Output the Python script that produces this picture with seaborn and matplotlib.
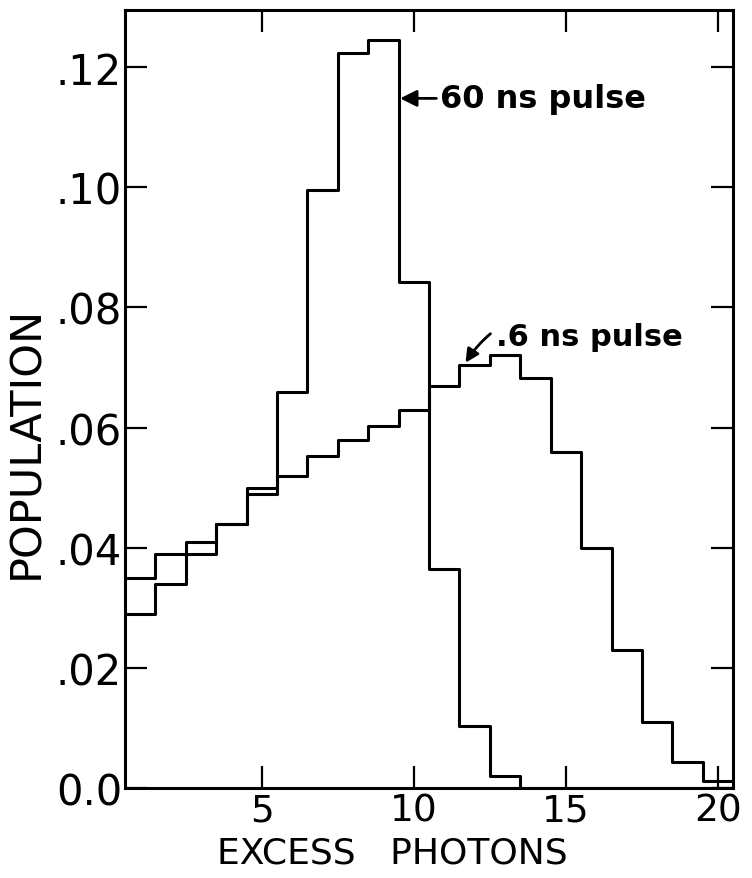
import matplotlib
matplotlib.use("Agg")
import matplotlib.pyplot as plt
import seaborn as sns
import pandas as pd

# photon-number bins (centres)
photons = list(range(1, 21))

# 60 ns pulse: narrow, peaked distribution
pop_60ns = [0.029, 0.034, 0.041, 0.044, 0.050, 0.066, 0.0995, 0.1223, 0.1245, 0.0842,
            0.0364, 0.0103, 0.0020, 0.0, 0.0, 0.0, 0.0, 0.0, 0.0, 0.0]

# .6 ns pulse: broad distribution
pop_06ns = [0.035, 0.039, 0.039, 0.044, 0.049, 0.052, 0.0553, 0.058, 0.0602, 0.063,
            0.067, 0.0704, 0.072, 0.0682, 0.056, 0.040, 0.023, 0.011, 0.0043, 0.0011]

y_ticks = [0.0, 0.02, 0.04, 0.06, 0.08, 0.10, 0.12]
y_tick_labels = ["0.0", ".02", ".04", ".06", ".08", ".10", ".12"]
x_ticks = [5, 10, 15, 20]

df = pd.DataFrame({
    "photons": photons * 2,
    "population": pop_60ns + pop_06ns,
    "pulse": ["60 ns"] * len(photons) + [".6 ns"] * len(photons),
})

sns.set_theme(style="ticks")
plt.rcParams["font.family"] = ["DejaVu Sans"]
plt.rcParams["text.color"] = "black"
plt.rcParams["axes.labelcolor"] = "black"

fig = plt.figure(figsize=(7.52, 8.79), dpi=100)
ax = fig.add_axes([0.166, 0.1024, 0.809, 0.885])

for pulse in ["60 ns", ".6 ns"]:
    sub = df[df["pulse"] == pulse]
    sns.histplot(data=sub, x="photons", weights="population",
                 binwidth=1, binrange=(0.5, 20.5),
                 element="step", fill=False, color="black", linewidth=2.2, ax=ax)

ax.set_xlim(0.5, 20.5)
ax.set_ylim(0, 0.1295)
ax.set_xticks(x_ticks)
ax.set_xticklabels([str(t) for t in x_ticks])
ax.set_yticks(y_ticks)
ax.set_yticklabels(y_tick_labels)

ax.tick_params(axis="both", direction="in", length=16, width=1.6,
               top=True, right=True, colors="black")
ax.tick_params(axis="x", pad=3, labelsize=27)
ax.tick_params(axis="y", pad=2, labelsize=30)
for s in ax.spines.values():
    s.set_linewidth(2.2)
    s.set_color("black")

ax.set_xlabel("EXCESS   PHOTONS", fontsize=26, labelpad=0)
ax.set_ylabel("POPULATION", fontsize=31, labelpad=0)
ax.xaxis.set_label_coords(0.44, -0.0615)
ax.yaxis.set_label_coords(-0.128, 0.446)

ax.annotate("60 ns pulse", xy=(9.55, 0.1148), xytext=(10.85, 0.1148),
            fontsize=23, fontweight="bold", ha="left", va="center",
            arrowprops=dict(arrowstyle="-|>", color="black", lw=2,
                            mutation_scale=25, shrinkA=0, shrinkB=0))
ax.annotate(".6 ns pulse", xy=(11.7, 0.0708), xytext=(12.7, 0.0752),
            fontsize=22, fontweight="bold", ha="left", va="center",
            arrowprops=dict(arrowstyle="-|>", color="black", lw=2,
                            mutation_scale=20, shrinkA=2, shrinkB=0,
                            connectionstyle="arc3,rad=0.5"))

ax.grid(False)
fig.savefig("out.png", dpi=100)
